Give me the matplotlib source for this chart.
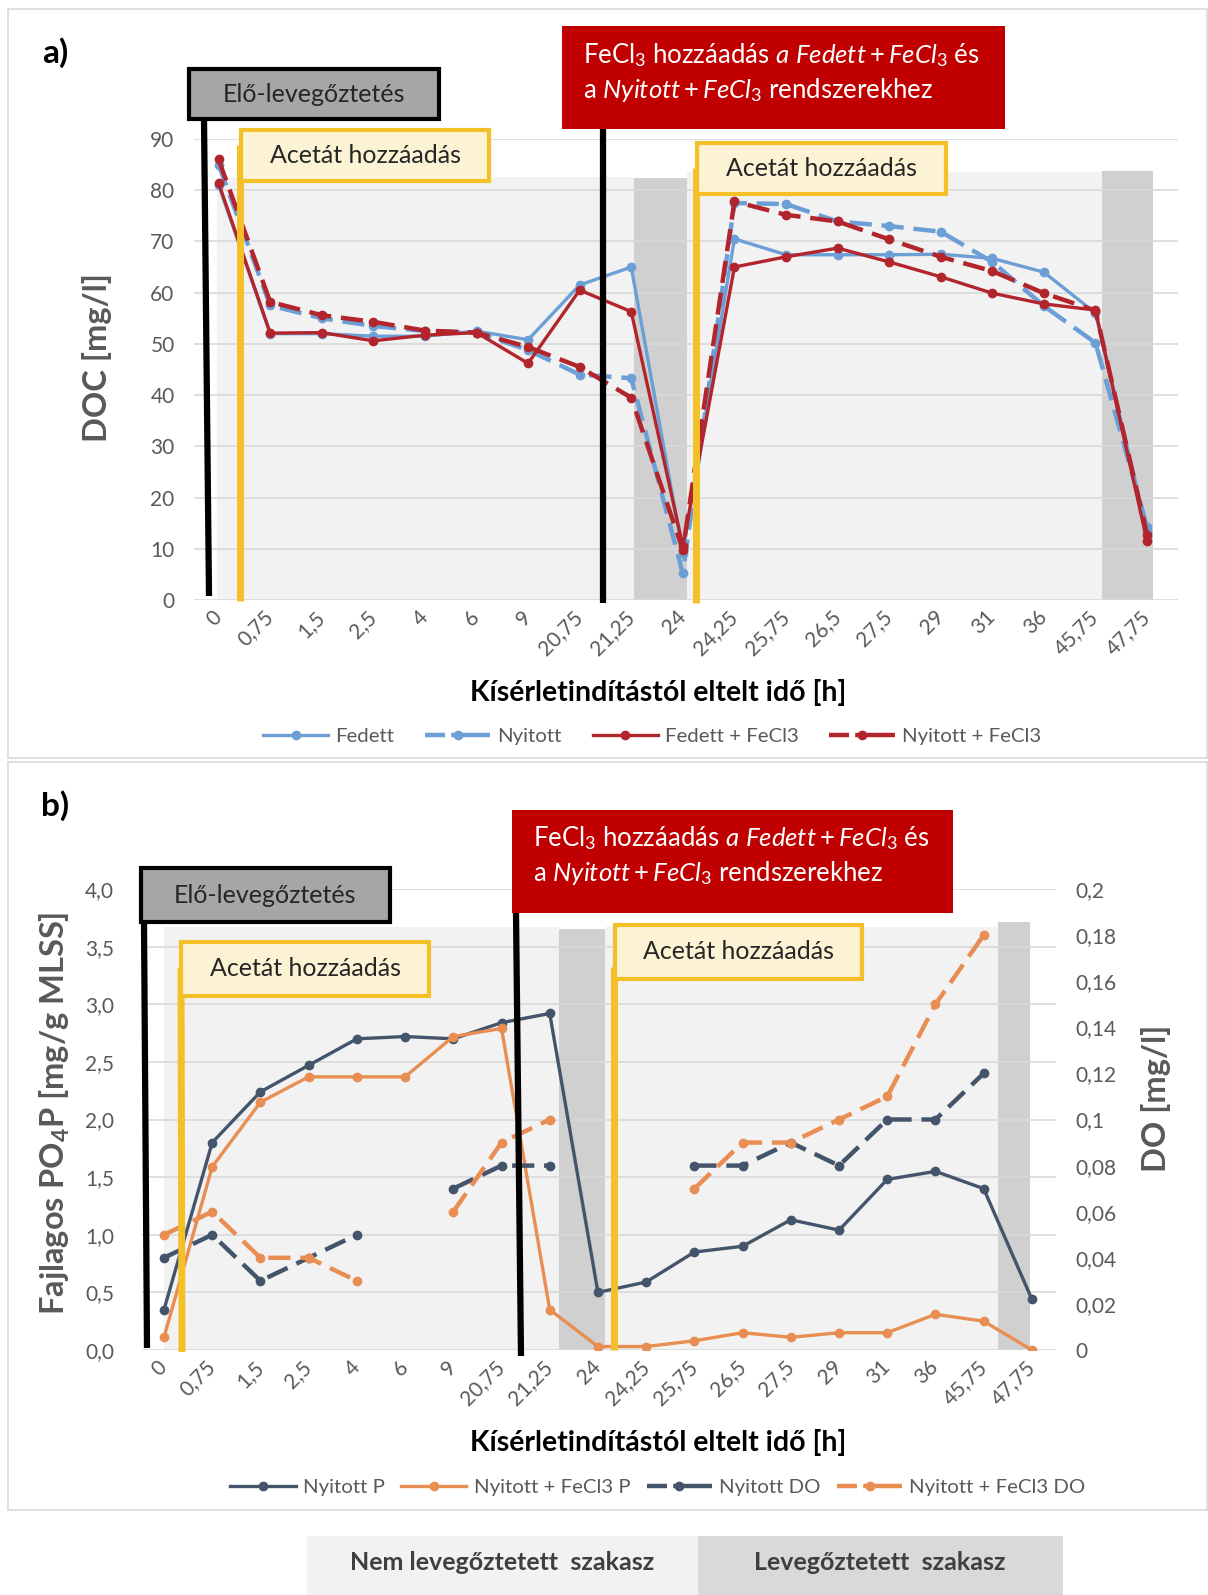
import numpy as np
import matplotlib
matplotlib.use('Agg')
import matplotlib.pyplot as plt
from matplotlib.lines import Line2D
from matplotlib.patches import Rectangle
from matplotlib.transforms import ScaledTranslation

plt.rcParams['font.family'] = ['Lato', 'DejaVu Sans']
plt.rcParams['mathtext.fontset'] = 'custom'
plt.rcParams['mathtext.rm'] = 'Lato'
plt.rcParams['mathtext.it'] = 'Lato:italic'
plt.rcParams['mathtext.bf'] = 'Lato:bold'

# sampling times [h], plotted as evenly spaced categories
hours = ['0', '0,75', '1,5', '2,5', '4', '6', '9', '20,75', '21,25', '24',
         '24,25', '25,75', '26,5', '27,5', '29', '31', '36', '45,75', '47,75']

# a) DOC [mg/l]
doc_fedett = [81, 52, 52, 51.5, 51.5, 52.5, 50.8, 61.5, 65, 9.2,
              70.5, 67.4, 67.4, 67.4, 67.5, 66.7, 64, 56, 13.5]
doc_nyitott = [85, 57.5, 55, 53.5, 52.5, 52.2, 48.8, 44, 43.3, 5.2,
               77.5, 77.3, 73.9, 73, 71.9, 66, 57.4, 50.2, 14.3]
doc_fedett_fecl3 = [81.4, 52.1, 52.2, 50.6, 51.7, 52.2, 46.2, 60.5, 56.3, 10.5,
                    65, 67, 68.7, 66, 63.1, 59.9, 57.8, 56.6, 11.5]
doc_nyitott_fecl3 = [86, 58.2, 55.6, 54.3, 52.6, 52.2, 49.4, 45.5, 39.5, 9.8,
                     77.8, 75.2, 73.9, 70.4, 67, 64.2, 59.9, 56.5, 12.7]
doc_ticks = ['0', '10', '20', '30', '40', '50', '60', '70', '80', '90']

# b) specific PO4-P [mg/g MLSS] and DO [mg/l]
p_nyitott = [0.35, 1.80, 2.24, 2.47, 2.70, 2.72, 2.70, 2.84, 2.92, 0.50,
             0.59, 0.85, 0.90, 1.13, 1.04, 1.48, 1.55, 1.40, 0.44]
p_nyitott_fecl3 = [0.11, 1.59, 2.15, 2.37, 2.37, 2.37, 2.72, 2.79, 0.35, 0.03,
                   0.03, 0.08, 0.15, 0.11, 0.15, 0.15, 0.31, 0.25, 0.0]
do_nyitott = [0.04, 0.05, 0.03, 0.04, 0.05, np.nan, 0.07, 0.08, 0.08, np.nan,
              np.nan, 0.08, 0.08, 0.09, 0.08, 0.10, 0.10, 0.12, np.nan]
do_nyitott_fecl3 = [0.05, 0.06, 0.04, 0.04, 0.03, np.nan, 0.06, 0.09, 0.10, np.nan,
                    np.nan, 0.07, 0.09, 0.09, 0.10, 0.11, 0.15, 0.18, np.nan]
p_ticks = ['0,0', '0,5', '1,0', '1,5', '2,0', '2,5', '3,0', '3,5', '4,0']
do_ticks = ['0', '0,02', '0,04', '0,06', '0,08', '0,1', '0,12', '0,14', '0,16', '0,18', '0,2']

W, H = 1208, 1595
GRAY_TXT = '#595959'
BLUE = '#6b9fd6'
RED = '#b3252c'
SLATE = '#44546a'
ORANGE = '#e98e52'
YEL = '#f4c027'
YEL_FILL = '#fcf2d4'
LIGHT = '#f2f2f2'
DARK = '#d0d0d0'
TICK_FS = 15
BOX_FS = 18

fig = plt.figure(figsize=(W / 100, H / 100), dpi=100)


def fx(x):
    return x / W


def fy(y):
    return 1 - y / H


def rect(x0, y0, x1, y1, fc, ec='none', lw=0, z=5):
    fig.add_artist(Rectangle((fx(x0), fy(y1)), (x1 - x0) / W, (y1 - y0) / H,
                             transform=fig.transFigure, fc=fc, ec=ec, lw=lw, zorder=z))


def seg(x0, y0, x1, y1, color, lw, z=4):
    fig.add_artist(Line2D([fx(x0), fx(x1)], [fy(y0), fy(y1)], transform=fig.transFigure,
                          color=color, lw=lw, solid_capstyle='butt', zorder=z))


def label_box(x0, y0, x1, y1, text, fc, ec, color, size=BOX_FS):
    rect(x0, y0, x1, y1, fc, ec, 3)
    fig.text(fx((x0 + x1) / 2), fy((y0 + y1) / 2), text, ha='center', va='center',
             fontsize=size, color=color, zorder=6)


def axes_px(left, top, right, bottom):
    return fig.add_axes([fx(left), fy(bottom), (right - left) / W, (bottom - top) / H])


def style(ax, xlim):
    ax.set_xlim(*xlim)
    ax.set_xticks(range(len(hours)))
    ax.set_xticklabels(hours, rotation=45, ha='right', va='center',
                       rotation_mode='anchor', color=GRAY_TXT, fontsize=TICK_FS)
    shift = ScaledTranslation(6 / 100, -3 / 100, fig.dpi_scale_trans)
    for lab in ax.get_xticklabels():
        lab.set_transform(lab.get_transform() + shift)
    ax.tick_params(length=0)
    ax.tick_params(axis='x', pad=10)
    for s in ax.spines.values():
        s.set_visible(False)
    ax.set_axisbelow(True)
    ax.yaxis.grid(True, color='#d9d9d9', lw=1.2)
    ax.patch.set_alpha(0)


def shade(ax, x0, x1, top, color):
    ax.add_patch(Rectangle((x0, 0), x1 - x0, top, fc=color, ec='none', zorder=0.1))


def key(line):
    # legend entry in the spreadsheet style: one short dash, a gap, then marker on a dash
    if line.get_linestyle() == '-':
        return line
    return Line2D([], [], color=line.get_color(), lw=line.get_linewidth(), marker='o',
                  markersize=6, dashes=(4.5, 1.4, 20, 1), label=line.get_label())


# panel frames
rect(8, 9, 1207, 758, 'none', '#d9d9d9', 1.2, z=0)
rect(8, 762, 1207, 1510, 'none', '#d9d9d9', 1.2, z=0)

# ---------------- a) ----------------
x = np.arange(len(hours))
ax = axes_px(194, 139, 1178, 600)
style(ax, (-0.477, 18.6))
ax.set_ylim(0, 90)
ax.set_yticks(range(0, 91, 10))
ax.set_yticklabels(doc_ticks, color=GRAY_TXT, fontsize=TICK_FS)
ax.tick_params(axis='y', pad=14)
shade(ax, -0.03, 8.05, 82.6, LIGHT)
shade(ax, 8.05, 9.08, 82.4, DARK)
shade(ax, 9.08, 17.13, 83.6, LIGHT)
shade(ax, 17.13, 18.12, 83.8, DARK)

mk = dict(marker='o', markersize=6)
dash = (5, 2.2)
la = []
la += ax.plot(x, doc_fedett, color=BLUE, lw=2.4, label='Fedett', **mk)
la += ax.plot(x, doc_nyitott, color=BLUE, lw=3.2, dashes=dash, label='Nyitott', **mk)
la += ax.plot(x, doc_fedett_fecl3, color=RED, lw=2.4, label='Fedett + FeCl3', **mk)
la += ax.plot(x, doc_nyitott_fecl3, color=RED, lw=3.2, dashes=dash, label='Nyitott + FeCl3', **mk)

fig.text(fx(55), fy(53), 'a)', fontsize=24, fontweight='bold', ha='center', va='center')
fig.text(fx(97), fy(357), 'DOC [mg/l]', rotation=90, fontsize=23.5, fontweight='bold',
         color=GRAY_TXT, ha='center', va='center')
fig.text(fx(658), fy(692), 'Kísérletindítástól eltelt idő [h]', fontsize=20.5,
         fontweight='bold', ha='center', va='center')
fig.legend(handles=[key(l) for l in la], loc='center', bbox_to_anchor=(fx(652), fy(736)),
           ncol=4, frameon=False, fontsize=14.7, handlelength=3.2, handletextpad=0.35,
           columnspacing=1.5, labelcolor=GRAY_TXT)

# annotations a)
seg(204, 119, 209, 596, 'black', 4.5)
label_box(189, 69, 439, 119, 'Elő-levegőztetés', '#a6a6a6', 'black', '#262626')
seg(240, 145, 240, 601, YEL, 5)
label_box(241, 130, 489, 181, 'Acetát hozzáadás', YEL_FILL, YEL, '#262626')
seg(603, 129, 603, 603, 'black', 4.5)
rect(562, 26, 1005, 129, '#c00000')
fig.text(fx(583), fy(55), r'FeCl$_3$ hozzáadás $\mathit{a\ Fedett + FeCl_3}$ és',
         fontsize=18.5, color='white', ha='left', va='center', zorder=6)
fig.text(fx(583), fy(90), r'a $\mathit{Nyitott + FeCl_3}$ rendszerekhez',
         fontsize=18.5, color='white', ha='left', va='center', zorder=6)
seg(696, 168, 696, 603, YEL, 5)
label_box(697, 143, 946, 194, 'Acetát hozzáadás', YEL_FILL, YEL, '#262626')

# ---------------- b) ----------------
bx = axes_px(142, 889, 1056, 1350)
style(bx, (-0.456, 18.5))
bx.set_ylim(0, 4)
bx.set_yticks(np.arange(0, 4.01, 0.5))
bx.set_yticklabels(p_ticks, color=GRAY_TXT, fontsize=TICK_FS)
bx.tick_params(axis='y', pad=20)
shade(bx, 0, 8.19, 3.67, LIGHT)
shade(bx, 8.19, 9.15, 3.65, DARK)
shade(bx, 9.15, 17.3, 3.67, LIGHT)
shade(bx, 17.3, 17.96, 3.71, DARK)

bx2 = bx.twinx()
bx2.set_ylim(0, 0.2)
bx2.set_yticks(np.linspace(0, 0.2, 11))
bx2.set_yticklabels(do_ticks, color=GRAY_TXT, fontsize=TICK_FS)
bx2.tick_params(length=0, pad=14)
for s in bx2.spines.values():
    s.set_visible(False)

lb = []
lb += bx.plot(x, p_nyitott, color=SLATE, lw=2.4, label='Nyitott P', **mk)
lb += bx.plot(x, p_nyitott_fecl3, color=ORANGE, lw=2.4, label='Nyitott + FeCl3 P', **mk)
lb += bx2.plot(x, do_nyitott, color=SLATE, lw=3.2, dashes=dash, label='Nyitott DO', **mk)
lb += bx2.plot(x, do_nyitott_fecl3, color=ORANGE, lw=3.2, dashes=dash,
               label='Nyitott + FeCl3 DO', **mk)

fig.text(fx(55), fy(806), 'b)', fontsize=24, fontweight='bold', ha='center', va='center')
fig.text(fx(55), fy(1113), r'Fajlagos PO$_\mathbf{4}$P [mg/g MLSS]', rotation=90,
         fontsize=23.5, fontweight='bold', color=GRAY_TXT, ha='center', va='center')
fig.text(fx(1156), fy(1098), 'DO [mg/l]', rotation=90, fontsize=23.5, fontweight='bold',
         color=GRAY_TXT, ha='center', va='center')
fig.text(fx(658), fy(1442), 'Kísérletindítástól eltelt idő [h]', fontsize=20.5,
         fontweight='bold', ha='center', va='center')
fig.legend(handles=[key(l) for l in lb], loc='center', bbox_to_anchor=(fx(658), fy(1487)),
           ncol=4, frameon=False, fontsize=14.7, handlelength=3.2, handletextpad=0.35,
           columnspacing=0.8, labelcolor=GRAY_TXT)

# annotations b)
seg(144, 922, 147, 1348, 'black', 4.5)
label_box(141, 868, 390, 922, 'Elő-levegőztetés', '#a6a6a6', 'black', '#262626')
seg(181, 968, 182, 1352, YEL, 5)
label_box(181, 942, 429, 996, 'Acetát hozzáadás', YEL_FILL, YEL, '#262626')
seg(516, 913, 521, 1356, 'black', 4.5)
rect(512, 810, 953, 913, '#c00000')
fig.text(fx(533), fy(838), r'FeCl$_3$ hozzáadás $\mathit{a\ Fedett + FeCl_3}$ és',
         fontsize=18.5, color='white', ha='left', va='center', zorder=6)
fig.text(fx(533), fy(873), r'a $\mathit{Nyitott + FeCl_3}$ rendszerekhez',
         fontsize=18.5, color='white', ha='left', va='center', zorder=6)
seg(614, 967, 614, 1350, YEL, 5)
label_box(615, 925, 862, 979, 'Acetát hozzáadás', YEL_FILL, YEL, '#262626')

# phase legend at the bottom
rect(307, 1536, 698, 1595, LIGHT, z=1)
rect(698, 1536, 1063, 1595, '#d9d9d9', z=1)
fig.text(fx(502), fy(1563), 'Nem levegőztetett  szakasz', fontsize=18, fontweight='bold',
         color='#3f3f3f', ha='center', va='center')
fig.text(fx(880), fy(1563), 'Levegőztetett  szakasz', fontsize=18, fontweight='bold',
         color='#3f3f3f', ha='center', va='center')

fig.savefig('out.png', dpi=100)
